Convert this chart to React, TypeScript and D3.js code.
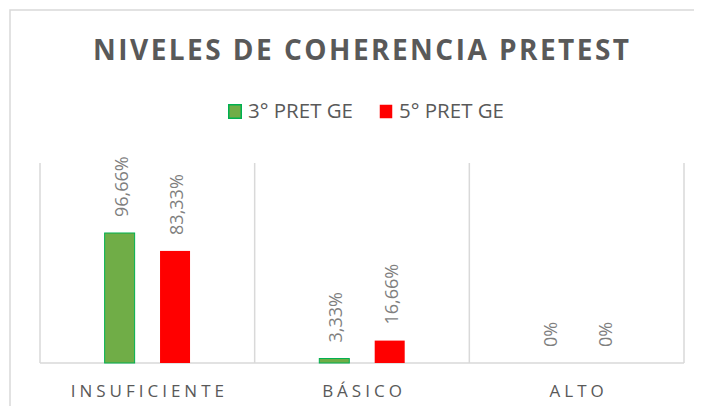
import React from "react";
import * as d3 from "d3";

const categories = ["INSUFICIENTE", "BÁSICO", "ALTO"];
const seriesNames = ["3° PRET GE", "5° PRET GE"];
const values3 = [0.9666, 0.0333, 0];
const values5 = [0.8333, 0.1666, 0];
const labels3 = ["96,66%", "3,33%", "0%"];
const labels5 = ["83,33%", "16,66%", "0%"];
const title = "NIVELES DE COHERENCIA PRETEST";

const W = 702, H = 414;
const plot = { left: 40, right: 684, top: 163, bottom: 363 };
const font = "'Open Sans', sans-serif";

export default function App() {
  const x = d3.scaleBand<string>().domain(categories).range([plot.left, plot.right]).paddingInner(0).paddingOuter(0);
  const y = d3.scaleLinear().domain([0, 1.487]).range([plot.bottom, plot.top]);
  const bw = 30;
  const off = 27.7;
  const series = [
    { vals: values3, labels: labels3, fill: "#70AD47", stroke: "#00B050", dx: -off },
    { vals: values5, labels: labels5, fill: "#FF0000", stroke: "#FF0000", dx: off },
  ];
  const gridXs = [plot.left, ...categories.map((c) => (x(c) as number) + x.bandwidth())];
  const legendX = [228, 379];
  return (
    <div style={{ margin: -8 }}>
      <svg width={W} height={H} style={{ display: "block" }}>
        <rect x={0} y={0} width={W} height={H} fill="#fff" />
        <rect x={10} y={10} width={W + 10} height={H + 10} fill="none" stroke="#d9d9d9" strokeWidth={1.5} />
        <text x={93} y={60} textLength={536} lengthAdjust="spacing" fontFamily={font} fontWeight={700} fontSize={28} fill="#595959">{title}</text>
        {seriesNames.map((s, i) => {
          const lx = legendX[i];
          return (
            <g key={s}>
              <rect x={lx + 0.75} y={104.75} width={12.5} height={13.5} fill={series[i].fill} stroke={series[i].stroke} strokeWidth={i === 0 ? 1.5 : 0} />
              <text x={lx + 20} y={118} textLength={105} lengthAdjust="spacingAndGlyphs" fontFamily={font} fontSize={20} fill="#595959">{s}</text>
            </g>
          );
        })}
        {gridXs.map((gx, i) => (
          <line key={i} x1={gx} x2={gx} y1={plot.top} y2={plot.bottom} stroke="#d9d9d9" strokeWidth={1.5} />
        ))}
        <line x1={plot.left} x2={plot.right} y1={plot.bottom} y2={plot.bottom} stroke="#d9d9d9" strokeWidth={1.5} />
        {categories.map((c, ci) => {
          const cx = (x(c) as number) + x.bandwidth() / 2;
          return (
            <g key={c}>
              {series.map((s, si) => {
                const v = s.vals[ci];
                const bx = cx + s.dx - bw / 2;
                const top = y(v);
                return (
                  <g key={si}>
                    {v > 0 && (
                      <rect x={bx} y={top} width={bw} height={plot.bottom - top} fill={s.fill} stroke={s.stroke} strokeWidth={si === 0 ? 1 : 0} />
                    )}
                    <text transform={`translate(${cx + s.dx + 8},${top - 16}) rotate(-90)`} fontFamily={font} fontSize={18} fill="#7f7f7f">{s.labels[ci]}</text>
                  </g>
                );
              })}
              <text x={cx + 2} y={397} textAnchor="middle" fontFamily={font} fontSize={17} letterSpacing={4} fill="#595959">{c}</text>
            </g>
          );
        })}
      </svg>
    </div>
  );
}
